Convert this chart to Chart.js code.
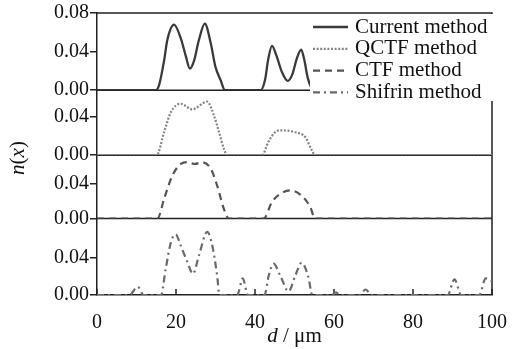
<!DOCTYPE html>
<html>
<head>
<meta charset="utf-8">
<script src="https://cdn.jsdelivr.net/npm/chart.js@4.4.0/dist/chart.umd.min.js"></script>
<style>
  html, body { margin: 0; padding: 0; background: #fff; }
  #wrap { width: 523px; height: 349px; }
</style>
</head>
<body>
<div id="wrap"><canvas id="nxChart" width="523" height="349"></canvas></div>
<script>
// Données : d en µm, n(x) pour chaque méthode
const seriesNames = ['Current method', 'QCTF method', 'CTF method', 'Shifrin method'];

const currentD = [0, 14.9, 15.7, 17, 17.8, 19.5, 21.2, 22.5, 23.5, 24.6, 25.8, 27.3, 28.8, 30, 31.3, 32.4,
  41.4, 42.6, 43.3, 44.3, 45.5, 46.8, 48.3, 49.5, 50.6, 51.7, 52.5, 53.4, 55, 100];
const currentN = [0, 0, 0.005, 0.031, 0.052, 0.068, 0.054, 0.035, 0.0225, 0.031, 0.052, 0.069, 0.0486, 0.024, 0.0104, 0,
  0, 0.012, 0.031, 0.046, 0.035, 0.019, 0.0097, 0.017, 0.033, 0.042, 0.031, 0.012, 0, 0];

const qctfD = [0, 15.1, 17, 18.7, 21.2, 24.1, 27.9, 29.6, 30.9, 32.1, 33,
  41.8, 43.4, 45.1, 46.4, 50.2, 52.7, 54.4, 55.2, 100];
const qctfN = [0, 0, 0.0243, 0.045, 0.0538, 0.048, 0.056, 0.0416, 0.024, 0.007, 0,
  0, 0.014, 0.024, 0.026, 0.024, 0.019, 0.005, 0, 0];

const ctfD = [0, 15.3, 17, 19.1, 21.2, 23, 24.8, 26.6, 28.8, 30.4, 32.1, 33.4,
  42.2, 44.3, 46.4, 48.9, 51.8, 54, 55.2, 100];
const ctfN = [0, 0, 0.0226, 0.049, 0.062, 0.064, 0.062, 0.064, 0.0565, 0.0377, 0.0113, 0,
  0, 0.019, 0.028, 0.032, 0.026, 0.013, 0, 0];

const shifrinD = [0, 8.2, 10.3, 11.8, 16.2, 17.4, 18.7, 19.9, 21.2, 22.9, 24.3, 25.8, 27.9, 29.2, 30.4, 31,
  35.5, 36.9, 38.2, 42.4, 43.5, 44.7, 46.4, 48.5, 50.2, 51.8, 53.5, 54.5,
  59.5, 60.5, 61.5, 66.5, 68, 69.5, 88.8, 90.5, 92.2, 96.8, 98.4, 100];
const shifrinN = [0, 0, 0.009, 0, 0, 0.0286, 0.057, 0.066, 0.0535, 0.0356, 0.023, 0.0428, 0.0685, 0.0535, 0.0214, 0,
  0, 0.018, 0, 0, 0.0214, 0.034, 0.021, 0.004, 0.021, 0.035, 0.0196, 0,
  0, 0.003, 0, 0, 0.006, 0, 0, 0.017, 0, 0, 0.018, 0.015];

// Graduations
const xTicks = [0, 20, 40, 60, 80, 100];
const yTicksTop = [0, 0.04, 0.08];
const yTicksPanel = [0, 0.04];

const serif = "'Liberation Serif', 'Times New Roman', serif";

function toPoints(xs, ys) {
  return xs.map((x, i) => ({ x: x, y: ys[i] }));
}

function panelAxis(weight, max, ticks) {
  return {
    type: 'linear',
    position: 'left',
    stack: 'panels',
    stackWeight: weight,
    min: 0,
    max: max,
    afterBuildTicks: s => { s.ticks = ticks.map(v => ({ value: v })); },
    afterFit: s => { s.width = 97; },
    ticks: {
      color: '#111',
      font: { family: serif, size: 20 },
      padding: 1,
      autoSkip: false,
      callback: v => v.toFixed(2)
    },
    grid: { drawOnChartArea: false, drawTicks: true, tickLength: 7, color: '#222', lineWidth: 1.5 },
    border: { color: '#222', width: 1.5 }
  };
}

// Cadre, séparateurs, graduations internes, légende et titres
const framePlugin = {
  id: 'framePlugin',
  beforeDatasetsDraw(chart) {
    const ctx = chart.ctx;
    const area = chart.chartArea;
    ctx.save();
    ctx.strokeStyle = '#222';
    ctx.lineWidth = 1.5;
    ['yCurrent', 'yQctf', 'yCtf'].forEach(id => {
      const y = chart.scales[id].getPixelForValue(0);
      ctx.beginPath();
      ctx.moveTo(area.left, y);
      ctx.lineTo(area.right, y);
      ctx.stroke();
    });
    ctx.beginPath();
    ctx.moveTo(area.left, area.top);
    ctx.lineTo(area.right, area.top);
    ctx.lineTo(area.right, area.bottom);
    ctx.stroke();
    const xs = chart.scales.x;
    xTicks.forEach(v => {
      const x = xs.getPixelForValue(v);
      ctx.beginPath();
      ctx.moveTo(x, area.bottom);
      ctx.lineTo(x, area.bottom - 6);
      ctx.stroke();
    });
    ctx.restore();
  },
  afterDatasetsDraw(chart) {
    const ctx = chart.ctx;
    ctx.save();
    ctx.fillStyle = '#fff';
    ctx.fillRect(310, 14, 183, 87);
    ctx.font = '21px ' + serif;
    ctx.textBaseline = 'middle';
    chart.data.datasets.forEach((ds, i) => {
      const y = 27 + i * 21.8;
      ctx.strokeStyle = ds.borderColor;
      ctx.lineWidth = ds.borderWidth;
      ctx.setLineDash(ds.borderDash || []);
      ctx.beginPath();
      ctx.moveTo(313, y);
      ctx.lineTo(348, y);
      ctx.stroke();
      ctx.fillStyle = '#111';
      ctx.fillText(ds.label, 355, y);
    });
    ctx.restore();
  },
  afterDraw(chart) {
    const ctx = chart.ctx;
    const area = chart.chartArea;
    ctx.save();
    ctx.fillStyle = '#111';
    ctx.textBaseline = 'middle';
    // titre vertical n(x)
    const parts = [['italic ', 'n'], ['', '('], ['italic ', 'x'], ['', ')']];
    ctx.translate(18, 158);
    ctx.rotate(-Math.PI / 2);
    let total = 0;
    parts.forEach(p => { ctx.font = p[0] + '21px ' + serif; total += ctx.measureText(p[1]).width; });
    let cx = -total / 2;
    parts.forEach(p => {
      ctx.font = p[0] + '21px ' + serif;
      ctx.fillText(p[1], cx, 0);
      cx += ctx.measureText(p[1]).width;
    });
    ctx.setTransform(1, 0, 0, 1, 0, 0);
    // titre horizontal d / µm
    const xparts = [['italic ', 'd'], ['', ' / \u03bcm']];
    total = 0;
    xparts.forEach(p => { ctx.font = p[0] + '21px ' + serif; total += ctx.measureText(p[1]).width; });
    cx = (area.left + area.right) / 2 - total / 2;
    xparts.forEach(p => {
      ctx.font = p[0] + '21px ' + serif;
      ctx.fillText(p[1], cx, 336);
      cx += ctx.measureText(p[1]).width;
    });
    ctx.restore();
  }
};

document.addEventListener('DOMContentLoaded', function() {
  const ctx = document.getElementById('nxChart').getContext('2d');

  const lineBase = { fill: false, pointRadius: 0, cubicInterpolationMode: 'monotone', borderCapStyle: 'butt' };

  const data = {
    datasets: [
      Object.assign({ label: seriesNames[0], data: toPoints(currentD, currentN), yAxisID: 'yCurrent',
        borderColor: '#3a3a3a', borderWidth: 2.3, borderDash: [] }, lineBase),
      Object.assign({ label: seriesNames[1], data: toPoints(qctfD, qctfN), yAxisID: 'yQctf',
        borderColor: '#858585', borderWidth: 2.2, borderDash: [2, 1.6] }, lineBase),
      Object.assign({ label: seriesNames[2], data: toPoints(ctfD, ctfN), yAxisID: 'yCtf',
        borderColor: '#555555', borderWidth: 2.2, borderDash: [7, 5] }, lineBase),
      Object.assign({ label: seriesNames[3], data: toPoints(shifrinD, shifrinN), yAxisID: 'yShifrin',
        borderColor: '#6a6a6a', borderWidth: 2.2, borderDash: [7, 4, 2, 4] }, lineBase)
    ]
  };

  new Chart(ctx, {
    type: 'line',
    data: data,
    options: {
      responsive: false,
      animation: false,
      layout: { padding: { top: 12, right: 28, left: 0, bottom: 0 } },
      plugins: { legend: { display: false }, tooltip: { enabled: false } },
      scales: {
        x: {
          type: 'linear',
          min: 0,
          max: 100,
          afterBuildTicks: s => { s.ticks = xTicks.map(v => ({ value: v })); },
          afterFit: s => { s.height = 54; },
          ticks: { color: '#111', font: { family: serif, size: 20 }, padding: 16, maxRotation: 0, autoSkip: false },
          grid: { drawOnChartArea: false, drawTicks: false },
          border: { color: '#222', width: 1.5 }
        },
        yShifrin: panelAxis(76.5, 0.083, yTicksPanel),
        yCtf: panelAxis(63.5, 0.072, yTicksPanel),
        yQctf: panelAxis(65, 0.068, yTicksPanel),
        yCurrent: panelAxis(77.3, 0.08, yTicksTop)
      }
    },
    plugins: [framePlugin]
  });
});
</script>
</body>
</html>
